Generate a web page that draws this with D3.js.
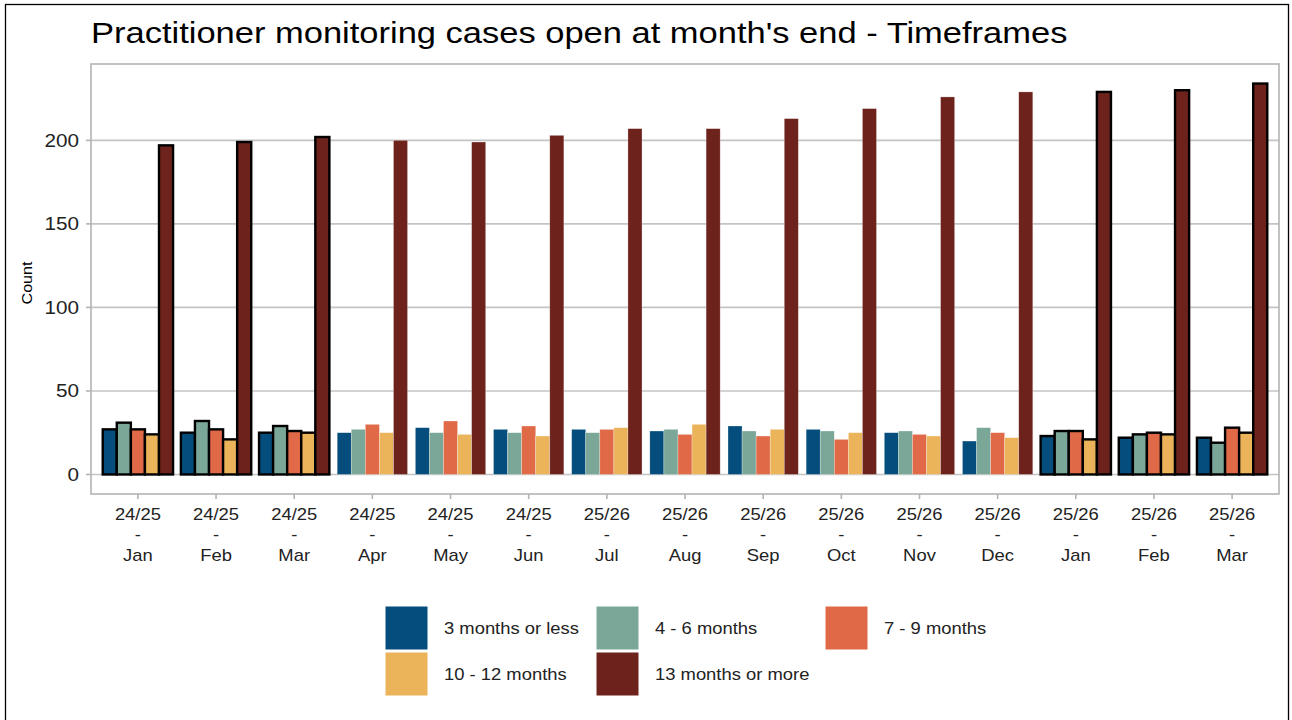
<!DOCTYPE html>
<html>
<head>
<meta charset="utf-8">
<script src="https://cdn.jsdelivr.net/npm/d3@7"></script>
<style>
  body { margin: 0; background: #fff; }
  svg { font-family: "Liberation Sans", Arial, sans-serif; }
</style>
</head>
<body>
<svg id="chart" width="1292" height="720"></svg>
<script>
// Data
const years = ["24/25", "24/25", "24/25", "24/25", "24/25", "24/25", "25/26", "25/26", "25/26", "25/26", "25/26", "25/26", "25/26", "25/26", "25/26"];
const months = ["Jan", "Feb", "Mar", "Apr", "May", "Jun", "Jul", "Aug", "Sep", "Oct", "Nov", "Dec", "Jan", "Feb", "Mar"];
const outlined = [true, true, true, false, false, false, false, false, false, false, false, false, true, true, true];

const seriesNames = ["3 months or less", "4 - 6 months", "7 - 9 months", "10 - 12 months", "13 months or more"];
const seriesColors = ["#044D7C", "#7AA797", "#E06A47", "#EBB35A", "#6D231C"];

const upTo3 = [27, 25, 25, 25, 28, 27, 27, 26, 29, 27, 25, 20, 23, 22, 22];
const m4to6 = [31, 32, 29, 27, 25, 25, 25, 27, 26, 26, 26, 28, 26, 24, 19];
const m7to9 = [27, 27, 26, 30, 32, 29, 27, 24, 23, 21, 24, 25, 26, 25, 28];
const m10to12 = [24, 21, 25, 25, 24, 23, 28, 30, 27, 25, 23, 22, 21, 24, 25];
const m13plus = [197, 199, 202, 200, 199, 203, 207, 207, 213, 219, 226, 229, 229, 230, 234];

const yTicks = [0, 50, 100, 150, 200];

const seriesValues = [upTo3, m4to6, m7to9, m10to12, m13plus];

// Layout
const panel = { left: 91, right: 1279, top: 64, bottom: 494 };
const stretch = 1.15; // text in the original is drawn a bit wide
const svg = d3.select("#chart");

// helper: text placed at (x, y), widened horizontally
function addText(parent, x, y, str, size, anchor, rotate) {
    const g = parent.append("g")
        .attr("transform", "translate(" + x + "," + y + ")" + (rotate ? " rotate(" + rotate + ")" : "") + " scale(" + stretch + ",1)");
    return g.append("text")
        .attr("font-size", size)
        .attr("text-anchor", anchor || "start")
        .attr("fill", "#222")
        .text(str);
}

// Outer frame
svg.append("rect")
    .attr("x", 5.5).attr("y", 4.5)
    .attr("width", 1283).attr("height", 730)
    .attr("fill", "#fff")
    .attr("stroke", "#000")
    .attr("stroke-width", 1.3);

// Title
addText(svg, panel.left, 43, "Practitioner monitoring cases open at month's end - Timeframes", 30)
    .attr("fill", "#000");

const keys = months.map((m, i) => i + "");

const x = d3.scaleBand()
    .domain(keys)
    .range([panel.left, panel.right])
    .paddingInner(0.1)
    .paddingOuter(0.15);

const xInner = d3.scaleBand()
    .domain(seriesNames)
    .range([0, x.bandwidth()])
    .padding(0);

const maxVal = d3.max(m13plus);
const yExp = maxVal * 0.05;
const y = d3.scaleLinear()
    .domain([-yExp, maxVal + yExp])
    .range([panel.bottom, panel.top]);

// Grid lines
svg.append("g")
    .selectAll("line")
    .data(yTicks)
    .enter()
    .append("line")
    .attr("x1", panel.left)
    .attr("x2", panel.right)
    .attr("y1", d => y(d))
    .attr("y2", d => y(d))
    .attr("stroke", "#c4c4c4")
    .attr("stroke-width", 1.6);

// Bars
const rows = [];
months.forEach((m, i) => {
    seriesNames.forEach((s, j) => {
        rows.push({ key: i + "", series: s, value: seriesValues[j][i], color: seriesColors[j], outlined: outlined[i] });
    });
});

svg.append("g")
    .selectAll("rect")
    .data(rows)
    .enter()
    .append("rect")
    .attr("x", d => x(d.key) + xInner(d.series))
    .attr("y", d => y(d.value))
    .attr("width", xInner.bandwidth())
    .attr("height", d => y(0) - y(d.value))
    .attr("fill", d => d.color)
    .attr("stroke", d => d.outlined ? "#000" : "rgba(255,255,255,0.45)")
    .attr("stroke-width", d => d.outlined ? 2.4 : 0.6);

// Panel border
svg.append("rect")
    .attr("x", panel.left)
    .attr("y", panel.top)
    .attr("width", panel.right - panel.left)
    .attr("height", panel.bottom - panel.top)
    .attr("fill", "none")
    .attr("stroke", "#b3b3b3")
    .attr("stroke-width", 1.6);

// Y axis ticks and labels
const yAxis = svg.append("g");
yAxis.selectAll("line")
    .data(yTicks)
    .enter()
    .append("line")
    .attr("x1", panel.left - 5)
    .attr("x2", panel.left)
    .attr("y1", d => y(d))
    .attr("y2", d => y(d))
    .attr("stroke", "#b3b3b3")
    .attr("stroke-width", 1.6);

yTicks.forEach(t => {
    addText(yAxis, panel.left - 12, y(t), t, 18, "end").attr("dy", "0.35em");
});

addText(svg, 32, (panel.top + panel.bottom) / 2 + 4, "Count", 14, "middle", -90)
    .attr("fill", "#000");

// X tick marks and labels
const xAxis = svg.append("g");
xAxis.selectAll("line")
    .data(keys)
    .enter()
    .append("line")
    .attr("x1", d => x(d) + x.bandwidth() / 2)
    .attr("x2", d => x(d) + x.bandwidth() / 2)
    .attr("y1", panel.bottom)
    .attr("y2", panel.bottom + 5)
    .attr("stroke", "#b3b3b3")
    .attr("stroke-width", 1.6);

keys.forEach(k => {
    const cx = x(k) + x.bandwidth() / 2;
    addText(xAxis, cx, 520, years[+k], 16, "middle");
    addText(xAxis, cx, 540, "-", 16, "middle");
    addText(xAxis, cx, 561, months[+k], 16, "middle");
});

// Legend
const legendCols = [385, 596, 825];
const legendRows = [606, 652];
const legend = svg.append("g");

seriesNames.forEach((s, i) => {
    const lx = legendCols[i % 3];
    const ly = legendRows[Math.floor(i / 3)];
    legend.append("rect")
        .attr("x", lx)
        .attr("y", ly)
        .attr("width", 43)
        .attr("height", 44)
        .attr("fill", seriesColors[i])
        .attr("stroke", "#fff")
        .attr("stroke-width", 1);
    addText(legend, lx + 59, ly + 22, s, 16).attr("dy", "0.35em");
});
</script>
</body>
</html>
